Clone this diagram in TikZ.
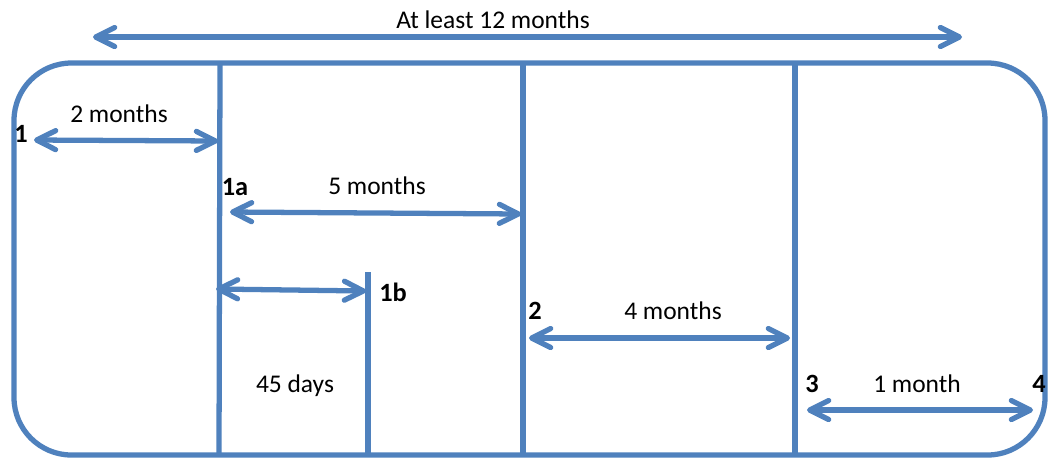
\documentclass[tikz,border=0pt]{standalone}
\usepackage{fontspec}
\setmainfont{Carlito}
\usetikzlibrary{arrows.meta,positioning}
\definecolor{lineblue}{RGB}{79,129,189}

\begin{document}
\begin{tikzpicture}[x=0.02cm, y=-0.02cm,
    every node/.style={font=\fontsize{14.5}{17}\selectfont, inner sep=0pt},
    frame/.style={draw=lineblue, line width=3pt},
    span/.style={draw=lineblue, line width=3pt, line cap=round,
      {Straight Barb[length=0.38cm, width=0.38cm, line cap=round, line join=round]}-{Straight Barb[length=0.38cm, width=0.38cm, line cap=round, line join=round]}},
    milestone/.style={font=\fontsize{15}{17}\selectfont\bfseries}]
    \useasboundingbox (0,0) rectangle (1050,458);
    % outer frame and phase borders
    \draw[frame, rounded corners=1.15cm] (14,63) rectangle (1045,455);
    \coordinate (p1top) at (220,63);  \coordinate (p1bot) at (219,455);
    \coordinate (p2top) at (523,63);  \coordinate (p2bot) at (523,455);
    \coordinate (p3top) at (795,63);  \coordinate (p3bot) at (795,455);
    \coordinate (p1btop) at (368,272); \coordinate (p1bbot) at (368,455);
    \draw[frame] (p1top) -- (p1bot);
    \draw[frame] (p2top) -- (p2bot);
    \draw[frame] (p3top) -- (p3bot);
    \draw[frame] (p1btop) -- (p1bbot);
    % spans
    \coordinate (allL) at (93,37);   \coordinate (allR) at (962,37);
    \coordinate (twoL) at (34,140);  \coordinate (twoR) at (218,141);
    \coordinate (fiveL) at (230,212); \coordinate (fiveR) at (521,214);
    \coordinate (daysL) at (216,289); \coordinate (daysR) at (366,291);
    \coordinate (fourL) at (529,338); \coordinate (fourR) at (790,338);
    \coordinate (oneL) at (807,410); \coordinate (oneR) at (1033,410);
    \draw[span] (allL) -- (allR);
    \draw[span] (twoL) -- (twoR);
    \draw[span] (fiveL) -- (fiveR);
    \draw[span] (daysL) -- (daysR);
    \draw[span] (fourL) -- (fourR);
    \draw[span] (oneL) -- (oneR);
    % texts
    \node (tall) at (493,20) {At least 12 months};
    \node (ttwo) at (119,114) {2 months};
    \node (tfive) at (377,186) {5 months};
    \node (tdays) at (295,386) {45 days};
    \node (tfour) at (673,311) {4 months};
    \node (tone) at (917,384) {1 month};
    \node[milestone] (m1) at (21,134) {1};
    \node[milestone] (m1a) at (235,187) {1a};
    \node[milestone] (m1b) at (393,292) {1b};
    \node[milestone] (m2) at (535,311) {2};
    \node[milestone] (m3) at (812,384) {3};
    \node[milestone] (m4) at (1039,384) {4};
\end{tikzpicture}
\end{document}
